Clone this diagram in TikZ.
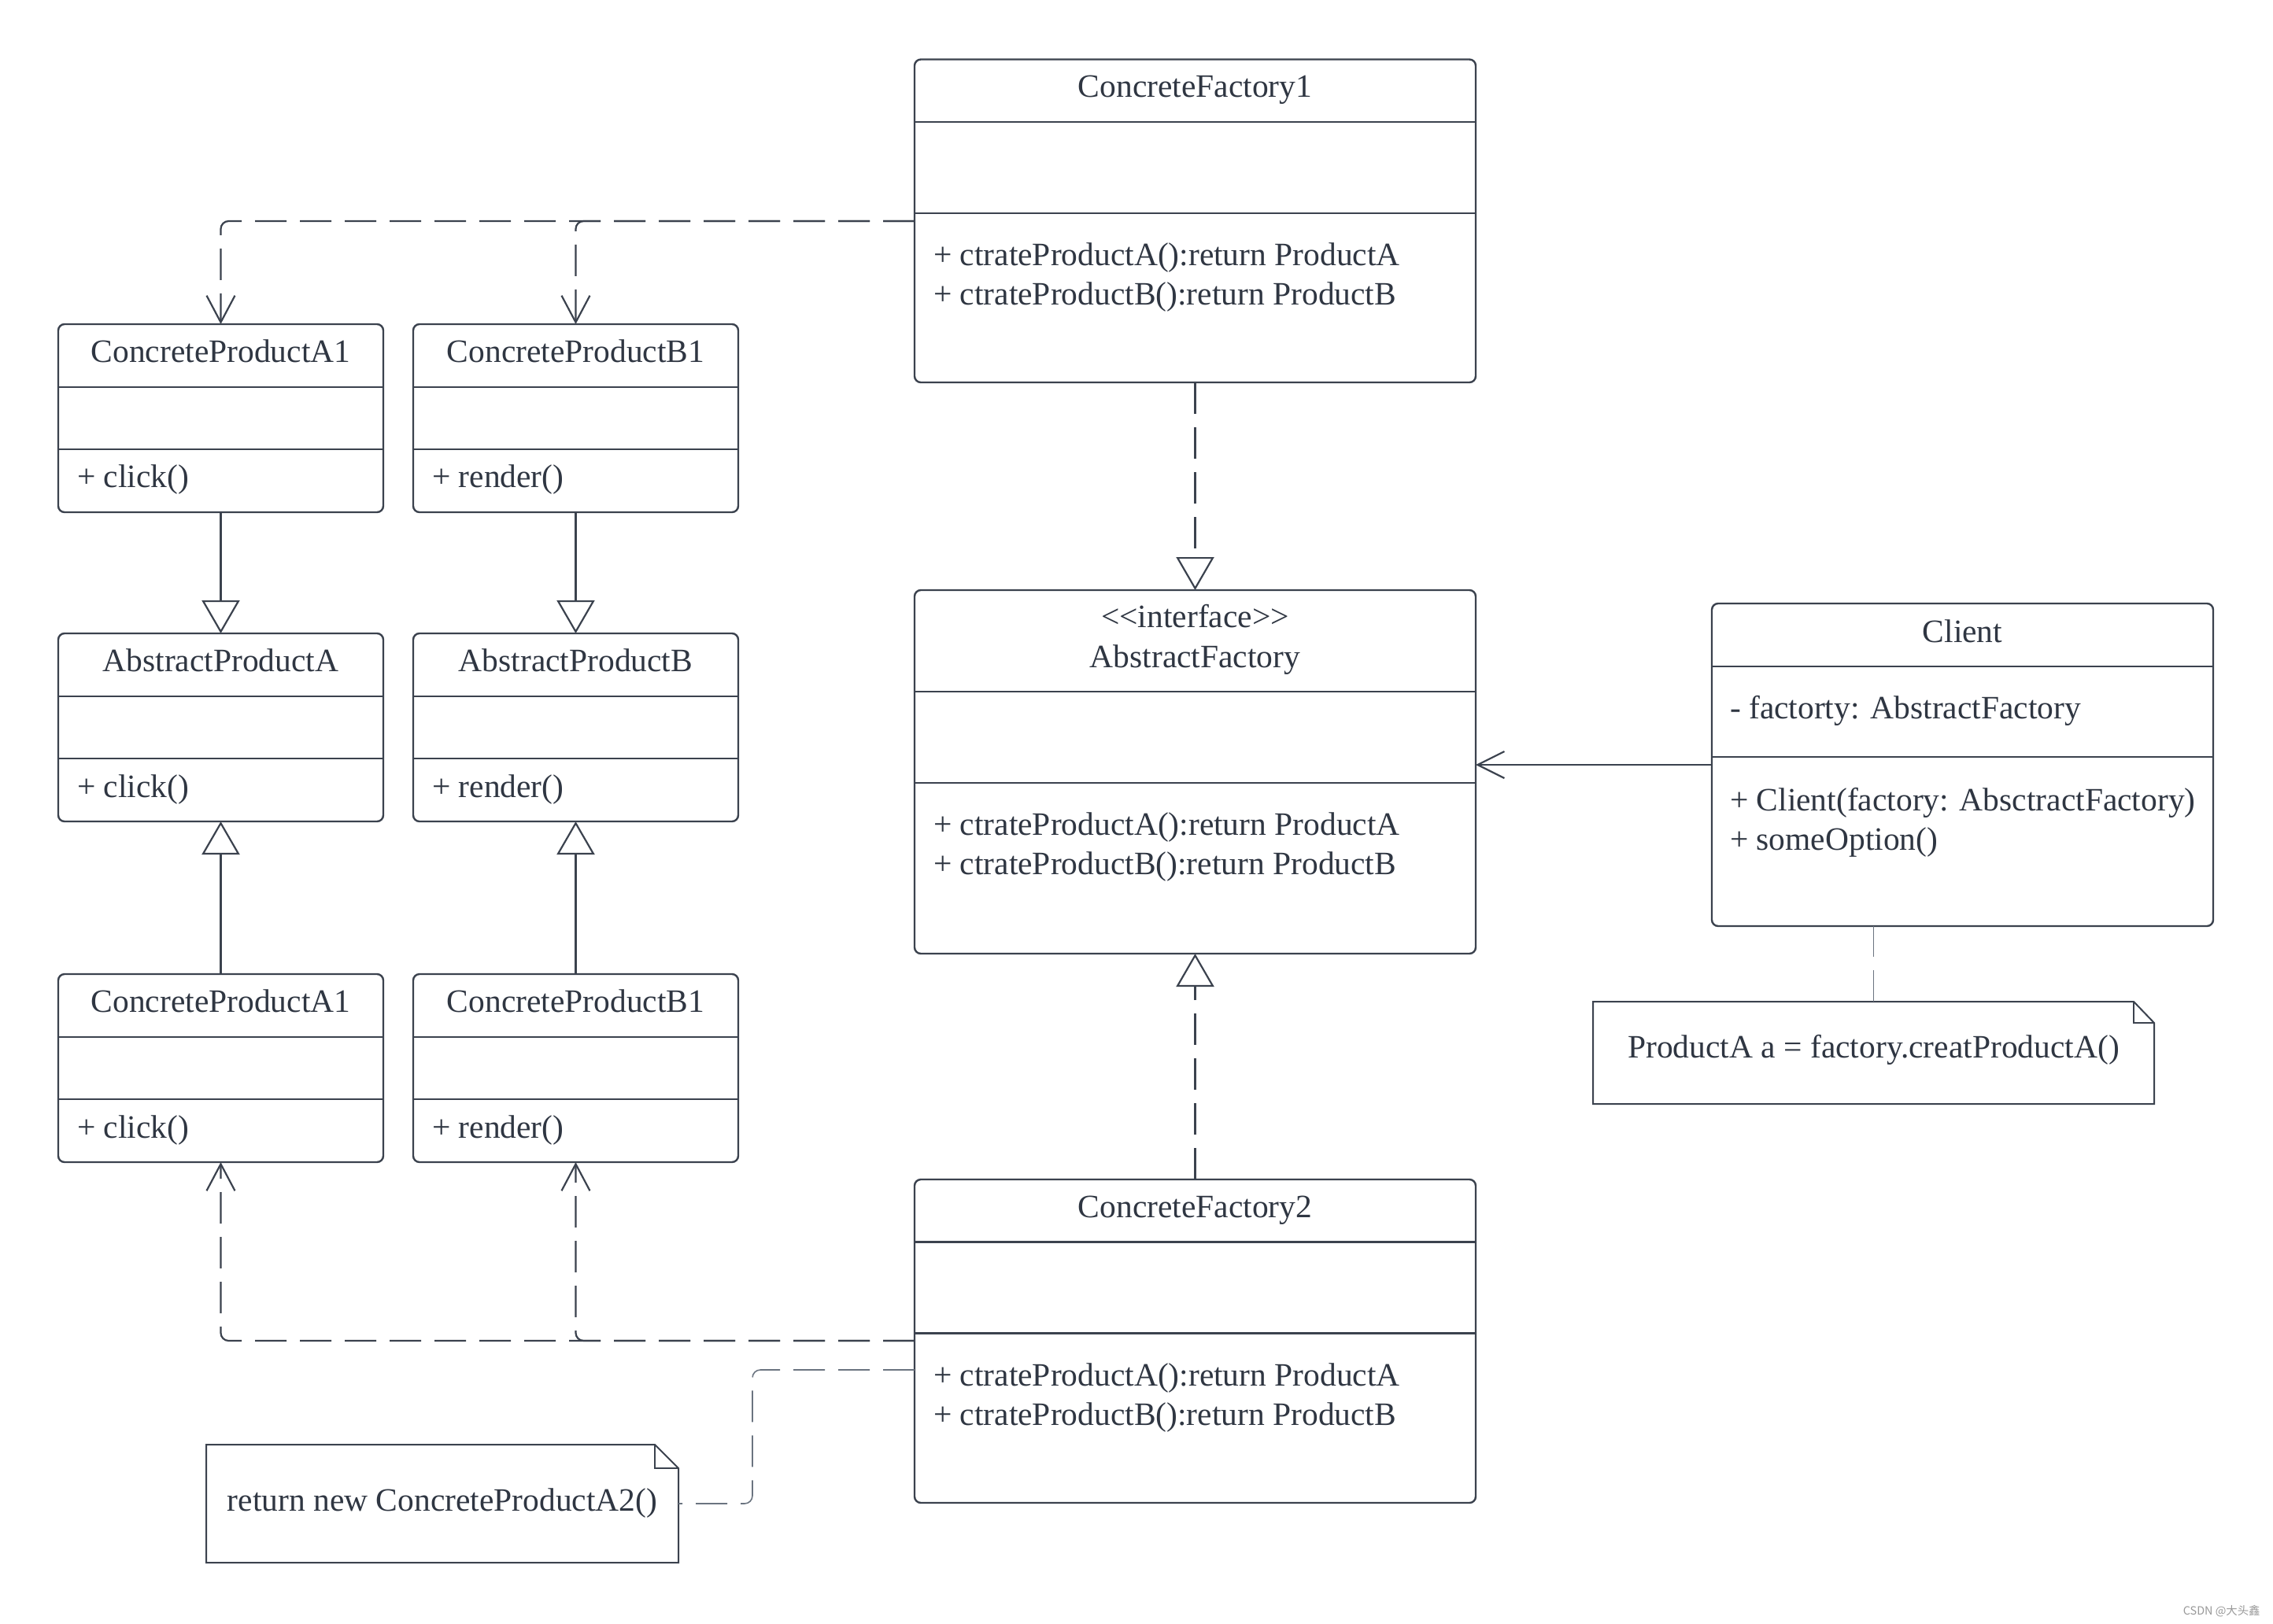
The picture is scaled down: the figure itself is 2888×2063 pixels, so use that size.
\documentclass[tikz,border=0pt]{standalone}
\usepackage{fontspec}
\setmainfont{Liberation Serif}[Ligatures=TeXOff]
\newfontfamily\cjk{Noto Sans CJK SC}
\usetikzlibrary{arrows.meta}
\definecolor{linec}{HTML}{3B424E}
\definecolor{textc}{HTML}{2F3642}
\definecolor{notec}{HTML}{6B7480}
\begin{document}
\begin{tikzpicture}[x=0.5pt,y=-0.5pt,
 cbox/.style={draw=linec, line width=1.2pt, rounded corners=4pt, inner sep=0pt, outer sep=0pt, anchor=north west},
 sepline/.style={draw=linec, line width=1.2pt},
 thinsep/.style={draw=linec, line width=0.6pt},
 txt/.style={text=textc, inner sep=0pt, outer sep=0pt, font=\fontsize{20.75}{25}\selectfont},
 title/.style={txt, anchor=base},
 member/.style={txt, anchor=base west},
 dep/.style={draw=linec, line width=1.1pt, dash pattern=on 20pt off 8.5pt, rounded corners=5pt, -{Straight Barb[length=17pt,width=18pt]}},
 gen/.style={draw=linec, line width=1.1pt, -{Triangle[open,length=21pt,width=24pt]}},
 real/.style={gen, dash pattern=on 20pt off 8.5pt},
 assoc/.style={draw=linec, line width=1.1pt, -{Straight Barb[length=17pt,width=17pt]}},
 notebox/.style={inner sep=0pt, outer sep=0pt, anchor=north west},
 noteline/.style={draw=linec, line width=1pt},
 notelink/.style={draw=notec, line width=0.8pt, dash pattern=on 20pt off 8.5pt, rounded corners=5pt},
]
\fill[white] (0,0) rectangle (2888,2063);
\useasboundingbox (0,0) rectangle (2888,2063);

% ConcreteFactory1
\node[cbox, minimum width=356.5pt, minimum height=205.25pt] (cf1) at (1162,75.5) {};
\draw[sepline] (cf1.west |- 0,155) -- (cf1.east |- 0,155);
\draw[sepline] (cf1.west |- 0,271) -- (cf1.east |- 0,271);
\node[title] (cf1t) at (1518.5,123) {ConcreteFactory1};
\node[member] (cf1m1) at (1186,337) {+ ctrateProductA():return ProductA};
\node[member] (cf1m2) at (1186,387) {+ ctrateProductB():return ProductB};

% top products
\node[cbox, minimum width=206.5pt, minimum height=119.5pt] (pa1) at (74,412) {};
\draw[sepline] (pa1.west |- 0,492) -- (pa1.east |- 0,492);
\draw[sepline] (pa1.west |- 0,571) -- (pa1.east |- 0,571);
\node[title] (pa1t) at (280.5,460) {ConcreteProductA1};
\node[member] (pa1m) at (98,619) {+ click()};

\node[cbox, minimum width=206.5pt, minimum height=119.5pt] (pb1) at (525,412) {};
\draw[sepline] (pb1.west |- 0,492) -- (pb1.east |- 0,492);
\draw[sepline] (pb1.west |- 0,571) -- (pb1.east |- 0,571);
\node[title] (pb1t) at (731.5,460) {ConcreteProductB1};
\node[member] (pb1m) at (549,619) {+ render()};

% abstract products
\node[cbox, minimum width=206.5pt, minimum height=119.5pt] (abA) at (74,805) {};
\draw[sepline] (abA.west |- 0,885) -- (abA.east |- 0,885);
\draw[sepline] (abA.west |- 0,964) -- (abA.east |- 0,964);
\node[title] (abAt) at (280.5,853) {AbstractProductA};
\node[member] (abAm) at (98,1013) {+ click()};

\node[cbox, minimum width=206.5pt, minimum height=119.5pt] (abB) at (525,805) {};
\draw[sepline] (abB.west |- 0,885) -- (abB.east |- 0,885);
\draw[sepline] (abB.west |- 0,964) -- (abB.east |- 0,964);
\node[title] (abBt) at (731.5,853) {AbstractProductB};
\node[member] (abBm) at (549,1013) {+ render()};

% bottom products
\node[cbox, minimum width=206.5pt, minimum height=119.5pt] (qa1) at (74,1238) {};
\draw[sepline] (qa1.west |- 0,1318) -- (qa1.east |- 0,1318);
\draw[sepline] (qa1.west |- 0,1397) -- (qa1.east |- 0,1397);
\node[title] (qa1t) at (280.5,1286) {ConcreteProductA1};
\node[member] (qa1m) at (98,1446) {+ click()};

\node[cbox, minimum width=206.5pt, minimum height=119.5pt] (qb1) at (525,1238) {};
\draw[sepline] (qb1.west |- 0,1318) -- (qb1.east |- 0,1318);
\draw[sepline] (qb1.west |- 0,1397) -- (qb1.east |- 0,1397);
\node[title] (qb1t) at (731.5,1286) {ConcreteProductB1};
\node[member] (qb1m) at (549,1446) {+ render()};

% AbstractFactory
\node[cbox, minimum width=356.5pt, minimum height=231pt] (af) at (1162,750) {};
\draw[thinsep] (af.west |- 0,879) -- (af.east |- 0,879);
\draw[sepline] (af.west |- 0,995) -- (af.east |- 0,995);
\node[title] (afs) at (1518.5,797) {<<interface>>};
\node[title] (aft) at (1518.5,848) {AbstractFactory};
\node[member] (afm1) at (1186,1061) {+ ctrateProductA():return ProductA};
\node[member] (afm2) at (1186,1111) {+ ctrateProductB():return ProductB};

% ConcreteFactory2
\node[cbox, minimum width=356.5pt, minimum height=205.5pt] (cf2) at (1162,1499) {};
\draw[sepline] (cf2.west |- 0,1578.5) -- (cf2.east |- 0,1578.5);
\draw[sepline] (cf2.west |- 0,1694.5) -- (cf2.east |- 0,1694.5);
\node[title] (cf2t) at (1518.5,1547) {ConcreteFactory2};
\node[member] (cf2m1) at (1186,1761) {+ ctrateProductA():return ProductA};
\node[member] (cf2m2) at (1186,1811) {+ ctrateProductB():return ProductB};

% Client
\node[cbox, minimum width=318.5pt, minimum height=205pt] (client) at (2175,767) {};
\draw[thinsep] (client.west |- 0,847) -- (client.east |- 0,847);
\draw[sepline] (client.west |- 0,962) -- (client.east |- 0,962);
\node[title] (clientt) at (2493.5,816) {Client};
\node[member] (clienta) at (2198,913) {- factorty: AbstractFactory};
\node[member] (clientm1) at (2198,1030) {+ Client(factory: AbsctractFactory)};
\node[member] (clientm2) at (2198,1080) {+ someOption()};

% notes
\node[notebox, minimum width=356.5pt, minimum height=65pt] (note1) at (2024,1273) {};
\draw[noteline] (note1.north west) -- ([xshift=-13pt]note1.north east) -- ([yshift=-13.5pt]note1.north east) -- (note1.south east) -- (note1.south west) -- cycle;
\draw[noteline] ([xshift=-13pt]note1.north east) |- ([yshift=-13.5pt]note1.north east);
\node[title] (note1t) at (2380.5,1344) {ProductA a = factory.creatProductA()};

\node[notebox, minimum width=300pt, minimum height=75pt] (note2) at (262,1836) {};
\draw[noteline] (note2.north west) -- ([xshift=-15pt]note2.north east) -- ([yshift=-15pt]note2.north east) -- (note2.south east) -- (note2.south west) -- cycle;
\draw[noteline] ([xshift=-15pt]note2.north east) |- ([yshift=-15pt]note2.north east);
\node[title] (note2t) at (562,1920) {return new ConcreteProductA2()};

% connectors
\draw[dep] (cf1.west |- 0,281) -| (pa1.north);
\draw[dep] (cf1.west |- 0,281) -| (pb1.north);
\draw[gen] (pa1.south) -- (abA.north);
\draw[gen] (pb1.south) -- (abB.north);
\draw[gen] (qa1.north) -- (abA.south);
\draw[gen] (qb1.north) -- (abB.south);
\draw[dep] (cf2.west |- 0,1704) -| (qa1.south);
\draw[dep] (cf2.west |- 0,1704) -| (qb1.south);
\draw[real] (cf1.south) -- (af.north);
\draw[real] (cf2.north) -- (af.south);
\draw[assoc] (client.west |- 0,972) -- (af.east |- 0,972);
\draw[notelink] (note1.north) -- (note1.north |- client.south);
\draw[notelink] (cf2.west |- 0,1741) -| (956,1825) |- (note2.east);

\node[font=\cjk\fontsize{7.2}{8}\selectfont, text=black!40, anchor=east, inner sep=0pt] (wm) at (2872,2048) {CSDN @大头鑫};
\end{tikzpicture}
\end{document}
